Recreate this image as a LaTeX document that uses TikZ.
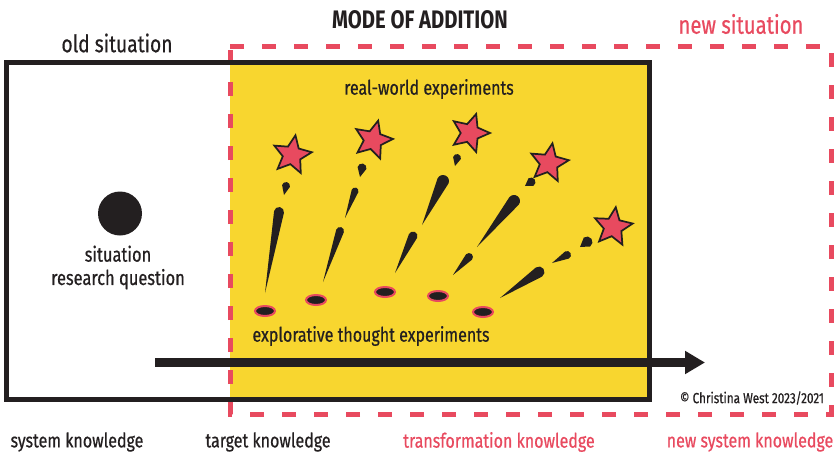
\documentclass[tikz,border=0pt]{standalone}
\usepackage{fontspec}
\setmainfont{Fira Sans}[FakeStretch=0.8,UprightFeatures={FakeBold=0.6}]
\usepackage{xcolor}
\usetikzlibrary{shapes.geometric,arrows.meta}

\definecolor{mainyellow}{RGB}{248,214,47}
\definecolor{accentred}{RGB}{232,74,95}
\definecolor{inkblack}{RGB}{35,31,32}

% tapered trail: tail (#1,#2), rounded head (#3,#4), half width #5
\newcommand{\trail}[5]{%
  \pgfmathsetmacro{\trailang}{atan2(#4-(#2),#3-(#1))}%
  \pgfmathsetmacro{\traillen}{veclen(#3-(#1),#4-(#2))}%
  \fill[inkblack,shift={(#1,#2)},rotate=\trailang] (0,0) -- (\traillen,#5) arc[start angle=90,end angle=-90,radius=#5] -- cycle;}

\begin{document}
\begin{tikzpicture}[x=0.75pt,y=0.75pt,yscale=-1,xscale=1,
  label/.style={inner sep=0pt,font=\fontsize{15}{18}\selectfont,text=inkblack},
  redlabel/.style={label,text=accentred},
  spark/.style={star,star points=5,star point ratio=2.15,minimum size=30pt,inner sep=0pt,fill=accentred,draw=inkblack,line width=1.3pt},
  hole/.style={ellipse,minimum width=15pt,minimum height=7.5pt,inner sep=0pt,fill=inkblack,draw=accentred,line width=1.5pt}]
\useasboundingbox (0,0) rectangle (836,454);

%Shape: Rectangle yellow area
\fill[mainyellow] (230,62.5) rectangle (649.5,399.5);
%Shape: Rectangle new situation
\draw[accentred,line width=3.75pt,dash pattern=on 10.5pt off 13.5pt] (230,46) -- (831,46) -- (831,414) -- (230,414) -- cycle;
%Shape: Rectangle old situation
\draw[inkblack,line width=3.75pt] (6.5,62.5) rectangle (649.5,399.5);

%Shape: Circle situation
\node[circle,fill=inkblack,minimum size=33pt,inner sep=0pt] (sitdot) at (120,213.5) {};

%Straight Lines arrow
\coordinate (flowstart) at (155,362.5);
\coordinate (flowend) at (705,362.5);
\draw[inkblack,line width=6.75pt,-{Triangle[length=15pt,width=16.5pt]}] (flowstart) -- (flowend);

%Shape: trails
\trail{265}{293}{279}{212}{5}
\trail{284}{195}{286}{186}{4}
\trail{323}{282}{340}{231}{4}
\trail{345}{218}{355}{191}{3.5}
\trail{360}{177}{362}{168}{4.5}
\trail{395}{273}{413}{236}{4.5}
\trail{422}{225}{443}{181}{6}
\trail{455}{166}{457}{158}{4}
\trail{453}{275}{469}{257}{4}
\trail{477}{247}{514}{201}{6}
\trail{525}{186}{531}{182}{4.5}
\trail{500}{298}{539}{272}{5.5}
\trail{552}{263}{567}{255}{4}
\trail{580}{247}{587}{242}{5.5}

%Shape: Ellipses thought experiments
\node[hole] (hole1) at (265,311) {};
\node[hole] (hole2) at (316,300) {};
\node[hole] (hole3) at (385,292) {};
\node[hole] (hole4) at (438,296) {};
\node[hole] (hole5) at (483,312) {};

%Shape: Stars real-world experiments
\node[spark,rotate=-10] (star1) at (292,155) {};
\node[spark,rotate=-15] (star2) at (373,140) {};
\node[spark,rotate=-18] (star3) at (470,133) {};
\node[spark,rotate=-10] (star4) at (549,163) {};
\node[spark,rotate=-8] (star5) at (613,227) {};

% Text Node
\node[label,font=\fontsize{19}{21}\selectfont\bfseries] (title) at (420,20) {MODE OF ADDITION};
% Text Node
\node[label,font=\fontsize{18}{20}\selectfont] (oldsit) at (117,43) {old situation};
% Text Node
\node[redlabel,font=\fontsize{19}{21}\selectfont] (newsit) at (741,24) {new situation};
% Text Node
\node[label,font=\fontsize{15}{18}\selectfont] (realexp) at (429,89) {real-world experiments};
% Text Node
\node[label,align=center,font=\fontsize{15.4}{17.5}\selectfont] (question) at (118,267.5) {situation\\research question};
% Text Node
\node[label] (thoughtexp) at (371,336) {explorative thought experiments};
% Text Node
\node[label,font=\fontsize{11}{13}\selectfont] (copy) at (752,398) {\textcopyright{} Christina West 2023/2021};
% Text Node
\node[label] (sysk) at (77,442) {system knowledge};
% Text Node
\node[label] (targetk) at (268,442) {target knowledge};
% Text Node
\node[redlabel] (transk) at (499,442) {transformation knowledge};
% Text Node
\node[redlabel] (newsysk) at (750,442) {new system knowledge};

\end{tikzpicture}
\end{document}
